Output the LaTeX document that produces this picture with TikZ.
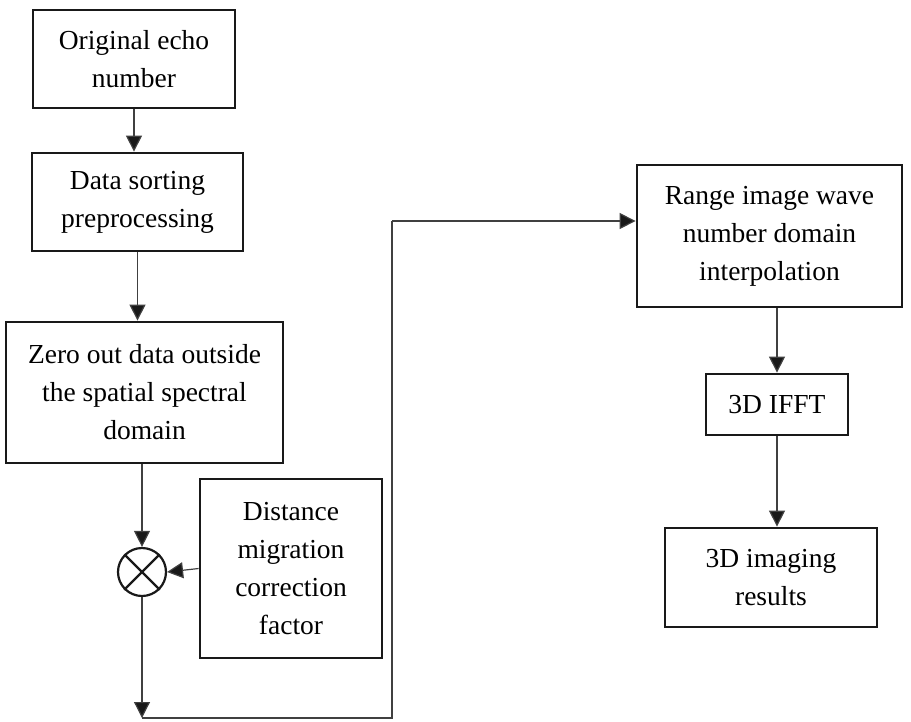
\documentclass[tikz,border=0pt]{standalone}
\usepackage{fontspec}
\setmainfont{Liberation Serif}
\usetikzlibrary{calc,arrows.meta}

\begin{document}
\begin{tikzpicture}[x=1pt,y=1pt,yscale=-1,line cap=butt]
	\tikzstyle{blk}=[draw=black!90,line width=2.8pt,align=center,inner sep=0pt,font=\fontsize{27.5}{38}\selectfont];
	\tikzstyle{arr}=[draw=black!75,line width=1.2pt,-{Triangle[length=16pt,width=16pt,fill=black!90]}];
	\tikzstyle{wire}=[draw=black!75,line width=1.2pt];
	\useasboundingbox (0,0) rectangle (911,721);

	\node[blk,minimum width=202,minimum height=98] (orig) at (134,59) {Original echo\\number};
	\node[blk,minimum width=211,minimum height=98] (sort) at (137.5,202) {Data sorting\\preprocessing};
	\node[blk,minimum width=277,minimum height=141] (zero) at (144.5,392.5) {Zero out data outside\\the spatial spectral\\domain};
	\node[circle,draw=black!90,line width=2.2pt,minimum size=48,inner sep=0pt] (mult) at (142,572) {};
	\draw[line width=2.2pt,black!90] (mult.45) -- (mult.225) (mult.135) -- (mult.-45);
	\node[blk,minimum width=182,minimum height=179] (fact) at (291,568.5) {Distance\\migration\\correction\\factor};
	\coordinate (down) at (142,718);
	\coordinate (turn) at (392,221);
	\node[blk,minimum width=265,minimum height=142] (range) at (769.5,236) {Range image wave\\number domain\\interpolation};
	\node[blk,minimum width=142,minimum height=61] (ifft) at (777,404.5) {3D IFFT};
	\node[blk,minimum width=212,minimum height=99] (res) at (771,577.5) {3D imaging\\results};

	\draw[arr] (orig.south) -- (orig.south |- sort.north);
	\draw[arr] (sort.south) -- (sort.south |- zero.north);
	\draw[arr] (mult |- zero.south) -- (mult.north);
	\draw[arr] (fact.west) -- (mult.east);
	\draw[arr] (mult.south) -- (down);
	\draw[wire] (down) -- (down -| turn) -- (turn);
	\draw[arr] (turn) -- (turn -| range.west);
	\draw[arr] (ifft |- range.south) -- (ifft.north);
	\draw[arr] (ifft.south) -- (ifft.south |- res.north);
\end{tikzpicture}
\end{document}
